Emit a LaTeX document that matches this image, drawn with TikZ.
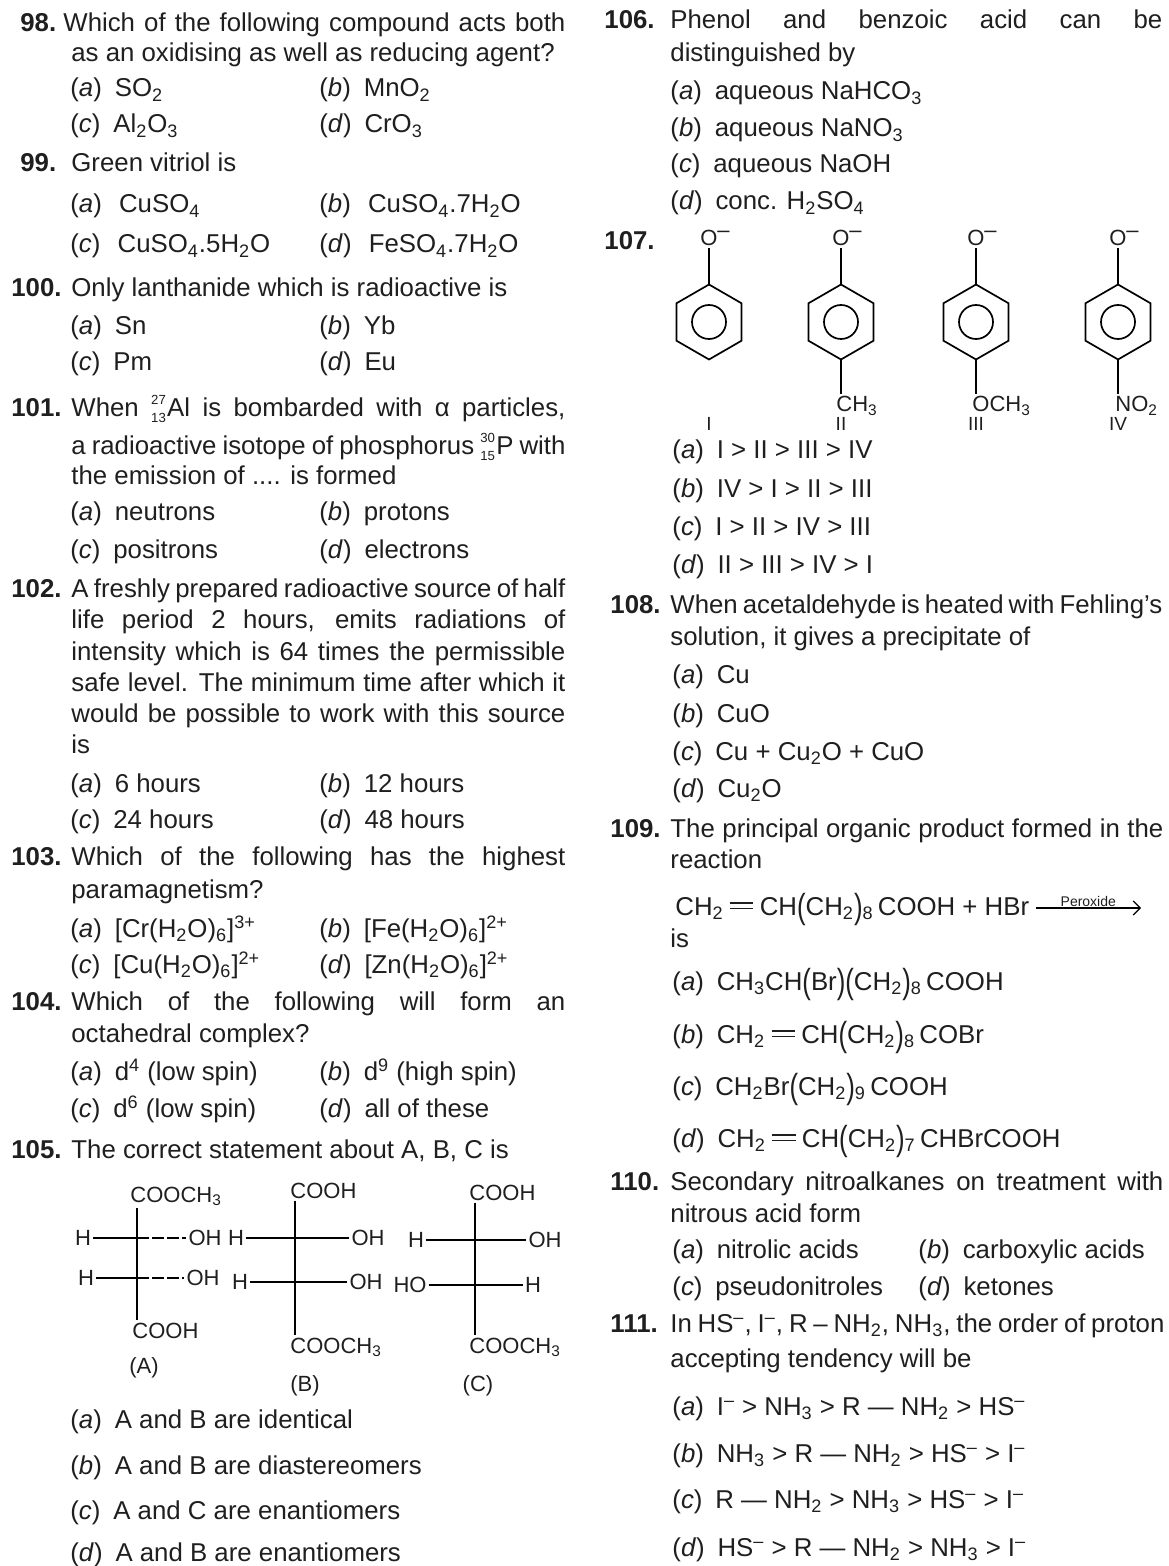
\documentclass[tikz,border=0pt]{standalone}
\usepackage{fontspec}
\setmainfont{Liberation Sans}
\usepackage{graphicx}
\usetikzlibrary{arrows.meta,calc}

\newlength\px \setlength\px{0.5pt}
\newcommand{\bodyfont}{\fontsize{12.9}{16}\selectfont}
\newcommand{\chs}[1]{\textsubscript{#1}}
\newcommand{\chp}[1]{\textsuperscript{#1}}
\newcommand{\opt}[2]{(\textit{#1})\hspace{0.5em}#2}
\newcommand{\jl}[2]{\makebox[#1\px][s]{#2}}
\newcommand{\lp}{\raisebox{-0.14em}{\scalebox{1}[1.35]{(}}}
\newcommand{\rp}{\raisebox{-0.14em}{\scalebox{1}[1.35]{)}}}
\newcommand{\dbl}{\hspace{0.25em}\rule[0.22em]{0.9em}{0.07em}\llap{\rule[0.44em]{0.9em}{0.07em}}\hspace{0.25em}}
\newcommand{\nuc}[3]{\makebox[0pt][l]{\raisebox{0.47em}{\fontsize{6.6}{7}\selectfont #1}}\raisebox{-0.2em}{\fontsize{6.6}{7}\selectfont #2}\hspace{0.05em}#3}

\tikzset{
  txt/.style={anchor=base west, inner sep=0pt, font=\bodyfont},
  num/.style={txt, font=\bodyfont\bfseries},
  fis/.style={inner sep=1pt, font=\fontsize{11}{13}\selectfont},
  bond/.style={line width=0.85pt},
  fbond/.style={line width=0.7pt},
}

\begin{document}
\begin{tikzpicture}[x=0.5pt, y=-0.5pt, text=black!88]

  % ---- Page ----
  \fill[white] (0,0) rectangle (1168,1566);
  \useasboundingbox (0,0) rectangle (1168,1566);

  % ---- Q98 ----
  \node[num] (n98) at (20,32) {98.};
  \node[txt] (t98a) at (63,32) {\jl{502}{Which of the following compound acts both}};
  \node[txt] (t98b) at (71,62) {as an oxidising as well as reducing agent?};
  \node[txt] (o98a) at (70,97) {\opt{a}{SO\chs{2}}};
  \node[txt] (o98b) at (319,97) {\opt{b}{MnO\chs{2}}};
  \node[txt] (o98c) at (70,133) {\opt{c}{Al\chs{2}O\chs{3}}};
  \node[txt] (o98d) at (319,133) {\opt{d}{CrO\chs{3}}};

  % ---- Q99 ----
  \node[num] (n99) at (20,172) {99.};
  \node[txt] (t99a) at (71,172) {Green vitriol is};
  \node[txt] (o99a) at (70,213) {\opt{a}{\,CuSO\chs{4}}};
  \node[txt] (o99b) at (319,213) {\opt{b}{\,CuSO\chs{4}.7H\chs{2}O}};
  \node[txt] (o99c) at (70,253) {\opt{c}{\,CuSO\chs{4}.5H\chs{2}O}};
  \node[txt] (o99d) at (319,253) {\opt{d}{\,FeSO\chs{4}.7H\chs{2}O}};

  % ---- Q100 ----
  \node[num] (n100) at (11,297) {100.};
  \node[txt] (t100a) at (71,297) {Only lanthanide which is radioactive is};
  \node[txt] (o100a) at (70,335) {\opt{a}{Sn}};
  \node[txt] (o100b) at (319,335) {\opt{b}{Yb}};
  \node[txt] (o100c) at (70,371) {\opt{c}{Pm}};
  \node[txt] (o100d) at (319,371) {\opt{d}{Eu}};

  % ---- Q101 ----
  \node[num] (n101) at (11,417) {101.};
  \node[txt] (t101a) at (71,417) {\jl{494}{When \nuc{27}{13}Al is bombarded with α particles,}};
  \node[txt] (t101b) at (71,455) {\jl{494}{a radioactive isotope of phosphorus \nuc{30}{15}P with}};
  \node[txt] (t101c) at (71,485) {the emission of .... is formed};
  \node[txt] (o101a) at (70,521) {\opt{a}{neutrons}};
  \node[txt] (o101b) at (319,521) {\opt{b}{protons}};
  \node[txt] (o101c) at (70,558) {\opt{c}{positrons}};
  \node[txt] (o101d) at (319,558) {\opt{d}{electrons}};

  % ---- Q102 ----
  \node[num] (n102) at (11,597) {102.};
  \node[txt] (t102a) at (71,597) {\jl{494}{A freshly prepared radioactive source of half}};
  \node[txt] (t102b) at (71,628) {\jl{494}{life period 2 hours, emits radiations of}};
  \node[txt] (t102c) at (71,660) {\jl{494}{intensity which is 64 times the permissible}};
  \node[txt] (t102d) at (71,691) {\jl{494}{safe level. The minimum time after which it}};
  \node[txt] (t102e) at (71,722) {\jl{494}{would be possible to work with this source}};
  \node[txt] (t102f) at (71,753) {is};
  \node[txt] (o102a) at (70,792) {\opt{a}{6 hours}};
  \node[txt] (o102b) at (319,792) {\opt{b}{12 hours}};
  \node[txt] (o102c) at (70,828) {\opt{c}{24 hours}};
  \node[txt] (o102d) at (319,828) {\opt{d}{48 hours}};

  % ---- Q103 ----
  \node[num] (n103) at (11,865) {103.};
  \node[txt] (t103a) at (71,865) {\jl{494}{Which of the following has the highest}};
  \node[txt] (t103b) at (71,898) {paramagnetism?};
  \node[txt] (o103a) at (70,937) {\opt{a}{[Cr(H\chs{2}O)\chs{6}]\chp{3+}}};
  \node[txt] (o103b) at (319,937) {\opt{b}{[Fe(H\chs{2}O)\chs{6}]\chp{2+}}};
  \node[txt] (o103c) at (70,973) {\opt{c}{[Cu(H\chs{2}O)\chs{6}]\chp{2+}}};
  \node[txt] (o103d) at (319,973) {\opt{d}{[Zn(H\chs{2}O)\chs{6}]\chp{2+}}};

  % ---- Q104 ----
  \node[num] (n104) at (11,1010) {104.};
  \node[txt] (t104a) at (71,1010) {\jl{494}{Which of the following will form an}};
  \node[txt] (t104b) at (71,1042) {octahedral complex?};
  \node[txt] (o104a) at (70,1080) {\opt{a}{d\chp{4} (low spin)}};
  \node[txt] (o104b) at (319,1080) {\opt{b}{d\chp{9} (high spin)}};
  \node[txt] (o104c) at (70,1117) {\opt{c}{d\chp{6} (low spin)}};
  \node[txt] (o104d) at (319,1117) {\opt{d}{all of these}};

  % ---- Q105 ----
  \node[num] (n105) at (11,1158) {105.};
  \node[txt] (t105a) at (71,1158) {The correct statement about A, B, C is};

  % Fischer (A)
  \coordinate (Ac1) at (137,1238);
  \coordinate (Ac2) at (137,1278);
  \node[fis, anchor=base west] (Atop) at (128,1202) {COOCH\chs{3}};
  \node[fis, anchor=base west] (Abot) at (130,1338) {COOH};
  \node[fis] (A1l) at (83,1238) {H};
  \node[fis] (A1r) at (205,1238) {OH};
  \node[fis] (A2l) at (86,1278) {H};
  \node[fis] (A2r) at (203,1278) {OH};
  \node[fis] (Alab) at (144,1368) {(A)};
  \draw[fbond] (Atop.south -| Ac1) -- (Abot.north -| Ac1);
  \draw[fbond] (A1l.east) -- (Ac1);
  \draw[fbond, dash pattern=on 6pt off 1.5pt] (Ac1) -- (A1r.west);
  \draw[fbond] (A2l.east) -- (Ac2);
  \draw[fbond, dash pattern=on 6pt off 1.5pt] (Ac2) -- (A2r.west);

  % Fischer (B)
  \coordinate (Bc1) at (295,1238);
  \coordinate (Bc2) at (295,1282);
  \node[fis, anchor=base west] (Btop) at (288,1198) {COOH};
  \node[fis, anchor=base west] (Bbot) at (288,1353) {COOCH\chs{3}};
  \node[fis] (B1l) at (236,1238) {H};
  \node[fis] (B1r) at (368,1238) {OH};
  \node[fis] (B2l) at (240,1282) {H};
  \node[fis] (B2r) at (366,1282) {OH};
  \node[fis] (Blab) at (305,1386) {(B)};
  \draw[fbond] (Btop.south -| Bc1) -- (Bbot.north -| Bc1);
  \draw[fbond] (B1l.east) -- (B1r.west);
  \draw[fbond] (B2l.east) -- (B2r.west);

  % Fischer (C)
  \coordinate (Cc1) at (475,1240);
  \coordinate (Cc2) at (475,1285);
  \node[fis, anchor=base west] (Ctop) at (467,1200) {COOH};
  \node[fis, anchor=base west] (Cbot) at (467,1353) {COOCH\chs{3}};
  \node[fis] (C1l) at (416,1240) {H};
  \node[fis] (C1r) at (545,1240) {OH};
  \node[fis] (C2l) at (410,1285) {HO};
  \node[fis] (C2r) at (533,1285) {H};
  \node[fis] (Clab) at (478,1386) {(C)};
  \draw[fbond] (Ctop.south -| Cc1) -- (Cbot.north -| Cc1);
  \draw[fbond] (C1l.east) -- (C1r.west);
  \draw[fbond] (C2l.east) -- (C2r.west);

  \node[txt] (o105a) at (70,1428) {\opt{a}{A and B are identical}};
  \node[txt] (o105b) at (70,1474) {\opt{b}{A and B are diastereomers}};
  \node[txt] (o105c) at (70,1519) {\opt{c}{A and C are enantiomers}};
  \node[txt] (o105d) at (70,1561) {\opt{d}{A and B are enantiomers}};

  % ---- Q106 ----
  \node[num] (n106) at (604,29) {106.};
  \node[txt] (t106a) at (670,29) {\jl{492}{Phenol and benzoic acid can be}};
  \node[txt] (t106b) at (670,62) {distinguished by};
  \node[txt] (o106a) at (670,100) {\opt{a}{aqueous NaHCO\chs{3}}};
  \node[txt] (o106b) at (670,137) {\opt{b}{aqueous NaNO\chs{3}}};
  \node[txt] (o106c) at (670,173) {\opt{c}{aqueous NaOH}};
  \node[txt] (o106d) at (670,210) {\opt{d}{conc. H\chs{2}SO\chs{4}}};

  % ---- Q107 ----
  \node[num] (n107) at (604,250) {107.};
  \foreach \cx/\rom [count=\i] in {709/I,841/II,976/III,1118/IV}{
    \coordinate (ring\i) at (\cx,322);
    \coordinate (top\i) at ($(ring\i)+(270:37.5)$);
    \coordinate (bot\i) at ($(ring\i)+(90:37.5)$);
    \draw[bond] (top\i) -- ($(ring\i)+(330:37.5)$) -- ($(ring\i)+(30:37.5)$) -- (bot\i)
      -- ($(ring\i)+(150:37.5)$) -- ($(ring\i)+(210:37.5)$) -- cycle;
    \draw[bond] (ring\i) circle[radius=17\px];
    \node[fis, label={[fis, inner sep=0pt, xshift=-1.5pt, yshift=-5pt]north east:--}] (ox\i) at (\cx,238) {O};
    \draw[bond] (ox\i.south) -- (top\i);
    \node[fis, font=\fontsize{9.5}{11}\selectfont] (rom\i) at (\cx,424) {\rom};
  }
  \node[fis, anchor=base west] (sub2) at (834,412) {CH\chs{3}};
  \node[fis, anchor=base west] (sub3) at (970,412) {OCH\chs{3}};
  \node[fis, anchor=base west] (sub4) at (1113,412) {NO\chs{2}};
  \foreach \i in {2,3,4}
    \draw[bond] (bot\i) -- (bot\i |- sub\i.north);
  \node[txt] (o107a) at (672,459) {\opt{a}{I > II > III > IV}};
  \node[txt] (o107b) at (672,498) {\opt{b}{IV > I > II > III}};
  \node[txt] (o107c) at (672,536) {\opt{c}{I > II > IV > III}};
  \node[txt] (o107d) at (672,574) {\opt{d}{II > III > IV > I}};

  % ---- Q108 ----
  \node[num] (n108) at (610,613) {108.};
  \node[txt] (t108a) at (670,613) {\jl{492}{When acetaldehyde is heated with Fehling's}};
  \node[txt] (t108b) at (670,645) {solution, it gives a precipitate of};
  \node[txt] (o108a) at (672,683) {\opt{a}{Cu}};
  \node[txt] (o108b) at (672,722) {\opt{b}{CuO}};
  \node[txt] (o108c) at (672,760) {\opt{c}{Cu + Cu\chs{2}O + CuO}};
  \node[txt] (o108d) at (672,797) {\opt{d}{Cu\chs{2}O}};

  % ---- Q109 ----
  \node[num] (n109) at (610,837) {109.};
  \node[txt] (t109a) at (670,837) {\jl{493}{The principal organic product formed in the}};
  \node[txt] (t109b) at (670,868) {reaction};
  \node[txt] (rxn) at (675,915) {CH\chs{2}\dbl CH\lp CH\chs{2}\rp\chs{8}\,COOH + HBr};
  \coordinate (arrS) at ($(rxn.base east)+(6,-7)$);
  \coordinate (arrE) at (1141,908);
  \draw[line width=0.6pt, -{Straight Barb[length=3.5pt]}] (arrS) -- (arrE)
    node[midway, above=0.5pt, inner sep=0pt, font=\fontsize{7}{8}\selectfont] (perox) {Peroxide};
  \node[txt] (t109c) at (670,947) {is};
  \node[txt] (o109a) at (672,990) {\opt{a}{CH\chs{3}CH\lp Br\rp\lp CH\chs{2}\rp\chs{8}\,COOH}};
  \node[txt] (o109b) at (672,1043) {\opt{b}{CH\chs{2}\dbl CH\lp CH\chs{2}\rp\chs{8}\,COBr}};
  \node[txt] (o109c) at (672,1095) {\opt{c}{CH\chs{2}Br\lp CH\chs{2}\rp\chs{9}\,COOH}};
  \node[txt] (o109d) at (672,1147) {\opt{d}{CH\chs{2}\dbl CH\lp CH\chs{2}\rp\chs{7}\,CHBrCOOH}};

  % ---- Q110 ----
  \node[num] (n110) at (610,1190) {110.};
  \node[txt] (t110a) at (670,1190) {\jl{493}{Secondary nitroalkanes on treatment with}};
  \node[txt] (t110b) at (670,1222) {nitrous acid form};
  \node[txt] (o110a) at (672,1258) {\opt{a}{nitrolic acids}};
  \node[txt] (o110b) at (918,1258) {\opt{b}{carboxylic acids}};
  \node[txt] (o110c) at (672,1295) {\opt{c}{pseudonitroles}};
  \node[txt] (o110d) at (918,1295) {\opt{d}{ketones}};

  % ---- Q111 ----
  \node[num] (n111) at (610,1332) {111.};
  \node[txt] (t111a) at (670,1332) {\jl{494}{In HS\chp{--}, I\chp{--}, R -- NH\chs{2}, NH\chs{3}, the order of proton}};
  \node[txt] (t111b) at (670,1367) {accepting tendency will be};
  \node[txt] (o111a) at (672,1415) {\opt{a}{I\chp{--} > NH\chs{3} > R --- NH\chs{2} > HS\chp{--}}};
  \node[txt] (o111b) at (672,1462) {\opt{b}{NH\chs{3} > R --- NH\chs{2} > HS\chp{--} > I\chp{--}}};
  \node[txt] (o111c) at (672,1508) {\opt{c}{R --- NH\chs{2} > NH\chs{3} > HS\chp{--} > I\chp{--}}};
  \node[txt] (o111d) at (672,1556) {\opt{d}{HS\chp{--} > R --- NH\chs{2} > NH\chs{3} > I\chp{--}}};

\end{tikzpicture}
\end{document}
